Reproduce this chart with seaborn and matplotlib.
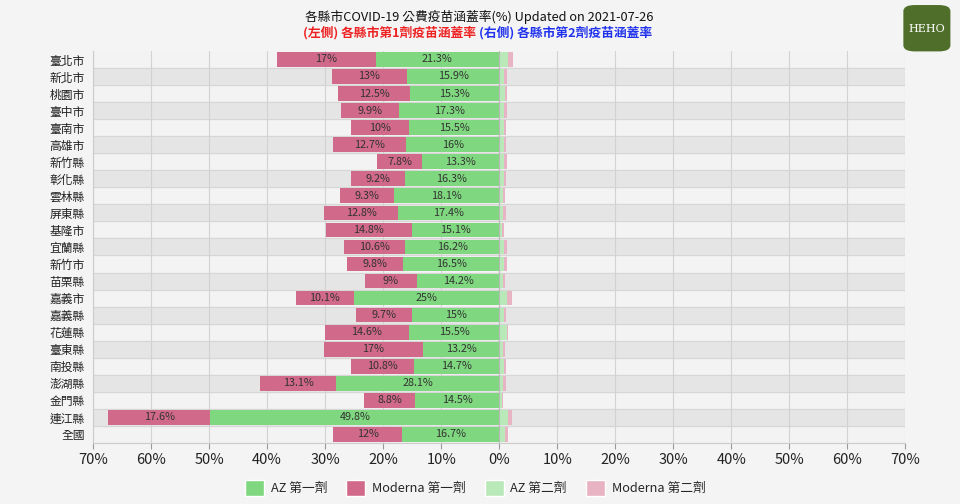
"""Taiwan county COVID-19 vaccine coverage, first dose left and second dose right."""

import matplotlib.pyplot as plt
import numpy as np
import pandas as pd
import seaborn as sns
from matplotlib.patches import FancyBboxPatch, Patch

cities = ["臺北市", "新北市", "桃園市", "臺中市", "臺南市", "高雄市", "新竹縣", "彰化縣",
          "雲林縣", "屏東縣", "基隆市", "宜蘭縣", "新竹市", "苗栗縣", "嘉義市", "嘉義縣",
          "花蓮縣", "臺東縣", "南投縣", "澎湖縣", "金門縣", "連江縣", "全國"]
az_dose1 = [21.3, 15.9, 15.3, 17.3, 15.5, 16, 13.3, 16.3, 18.1, 17.4, 15.1, 16.2,
            16.5, 14.2, 25, 15, 15.5, 13.2, 14.7, 28.1, 14.5, 49.8, 16.7]
moderna_dose1 = [17, 13, 12.5, 9.9, 10, 12.7, 7.8, 9.2, 9.3, 12.8, 14.8, 10.6,
                 9.8, 9, 10.1, 9.7, 14.6, 17, 10.8, 13.1, 8.8, 17.6, 12]
az_dose2 = [1.44, 0.86, 0.98, 0.86, 0.86, 0.86, 0.86, 0.75, 0.57, 0.69, 0.46, 0.75,
            0.86, 0.69, 1.26, 0.75, 1.26, 0.69, 0.75, 0.69, 0.4, 1.44, 0.98]
moderna_dose2 = [0.86, 0.46, 0.34, 0.4, 0.34, 0.34, 0.46, 0.34, 0.4, 0.4, 0.29, 0.52,
                 0.4, 0.34, 1.03, 0.4, 0.34, 0.34, 0.4, 0.46, 0.29, 0.69, 0.46]
x_ticks = [-70, -60, -50, -40, -30, -20, -10, 0, 10, 20, 30, 40, 50, 60, 70]

AZ1_COLOR = "#7fd87f"
MOD1_COLOR = "#d0698a"
AZ2_COLOR = "#b9e9b9"
MOD2_COLOR = "#e8b3c3"
BG = "#f4f4f4"

df = pd.DataFrame({
    "city": cities,
    "az1": az_dose1,
    "mod1": moderna_dose1,
    "az2": az_dose2,
    "mod2": moderna_dose2,
})
df["left_total"] = -(df["az1"] + df["mod1"])
df["left_az"] = -df["az1"]
df["right_total"] = df["az2"] + df["mod2"]

sns.set_style("white")
plt.rcParams["font.family"] = ["Noto Sans CJK TC", "DejaVu Sans"]

fig = plt.figure(figsize=(9.6, 5.04), dpi=100, facecolor=BG)
ax = fig.add_axes([0.097, 0.121, 0.846, 0.778])
ax.set_facecolor("#f3f3f3")

# stacked bars: draw the total first, then the inner part on top
bar_kw = dict(y="city", orient="h", width=0.86, saturation=1, linewidth=0,
              ax=ax, zorder=3)
sns.barplot(data=df, x="left_total", color=MOD1_COLOR, **bar_kw)
sns.barplot(data=df, x="left_az", color=AZ1_COLOR, **bar_kw)
sns.barplot(data=df, x="right_total", color=MOD2_COLOR, **bar_kw)
sns.barplot(data=df, x="az2", color=AZ2_COLOR, **bar_kw)

# alternating row bands and separators
for i in range(len(cities)):
    if i % 2 == 1:
        ax.axhspan(i - 0.5, i + 0.5, color="#e5e5e5", zorder=0)
    ax.axhline(i + 0.5, color="#d6d6d6", lw=0.8, zorder=1)
for xt in x_ticks:
    ax.axvline(xt, color="#d2d2d2", lw=0.8, zorder=1)
ax.axvline(0, color="#b8b8b8", lw=0.8, zorder=4)

for i, row in df.iterrows():
    ax.text(-row["az1"] / 2, i, f"{row['az1']:g}%", ha="center", va="center",
            fontsize=7.8, color="#333333", zorder=5)
    ax.text(-row["az1"] - row["mod1"] / 2, i, f"{row['mod1']:g}%", ha="center",
            va="center", fontsize=7.8, color="#333333", zorder=5)

ax.set_xlim(-70, 70)
ax.set_ylim(len(cities) - 0.5, -0.5)
ax.set_xticks(x_ticks)
ax.set_xticklabels([f"{abs(v)}%" for v in x_ticks], fontsize=10.5, color="#222222")
ax.tick_params(axis="x", length=4, color="#999999", pad=3, bottom=True)
ax.tick_params(axis="y", length=0, labelsize=8.5, pad=6, labelcolor="#222222")
ax.set_xlabel("")
ax.set_ylabel("")
for side in ["top", "right"]:
    ax.spines[side].set_visible(False)
ax.spines["left"].set_color("#cccccc")
ax.spines["bottom"].set_color("#cccccc")

fig.text(0.499, 0.966, "各縣市COVID-19 公費疫苗涵蓋率(%) Updated on 2021-07-26",
         ha="center", va="center", fontsize=9.2, color="#111111")
fig.text(0.496, 0.936, "(左側) 各縣市第1劑疫苗涵蓋率", ha="right", va="center",
         fontsize=9.2, color="#ee2222", fontweight="bold")
fig.text(0.499, 0.936, "(右側) 各縣市第2劑疫苗涵蓋率", ha="left", va="center",
         fontsize=9.2, color="#2233ee", fontweight="bold")

handles = [Patch(facecolor=AZ1_COLOR, label="AZ 第一劑"),
           Patch(facecolor=MOD1_COLOR, label="Moderna 第一劑"),
           Patch(facecolor=AZ2_COLOR, label="AZ 第二劑"),
           Patch(facecolor=MOD2_COLOR, label="Moderna 第二劑")]
fig.legend(handles=handles, loc="center", bbox_to_anchor=(0.495, 0.032), ncol=4,
           frameon=False, fontsize=9.2, handlelength=1.5, handleheight=1.5,
           columnspacing=1.5, handletextpad=0.5)

# Heho logo badge
logo = FancyBboxPatch((0.941, 0.898), 0.049, 0.092, boxstyle="round,pad=0,rounding_size=0.012",
                      transform=fig.transFigure, facecolor="#4f6e2a", edgecolor="none")
fig.patches.append(logo)
fig.text(0.9655, 0.942, "HEHO", ha="center", va="center", fontsize=8, color="white",
         family="DejaVu Serif")

fig.savefig("out.png", dpi=100, facecolor=BG)
